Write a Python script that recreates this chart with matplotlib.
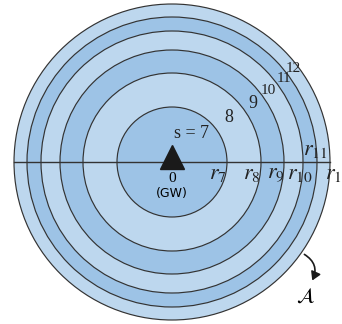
import matplotlib.pyplot as plt
from matplotlib.patches import Circle, FancyArrowPatch

plt.rcParams["mathtext.fontset"] = "stix"
plt.rcParams["font.family"] = ["Liberation Serif", "DejaVu Serif"]

# ring index and outer radius of each ring (pixels)
ring_ids = [7, 8, 9, 10, 11, 12]
ring_radii = [55, 89, 112, 131, 145, 158]
ring_colors = ["#9dc3e6", "#bdd7ee", "#9dc3e6", "#bdd7ee", "#9dc3e6", "#bdd7ee"]

# where the ring number labels sit
num_labels = ["s = 7", "8", "9", "10", "11", "12"]
num_pos = [(191, 133), (229, 117), (253, 104), (268, 90), (284, 78), (293, 68)]
num_sizes = [13, 13, 13, 11, 11, 11]

# radius labels along the axis
r_pos = [(218, 174), (252, 174), (276, 174), (300, 174), (315, 151), (338, 174)]

cx, cy = 172, 162

fig = plt.figure(figsize=(3.42, 3.24), dpi=100)
ax = fig.add_axes([0, 0, 1, 1])
ax.set_xlim(0, 342)
ax.set_ylim(324, 0)
ax.set_aspect("equal")
ax.axis("off")

# rings, outer first so inner ones paint on top
for r, c in reversed(list(zip(ring_radii, ring_colors))):
    ax.add_patch(Circle((cx, cy), r, facecolor=c, edgecolor="#333333", lw=0.85))

ax.plot([14, cx + ring_radii[-1]], [cy, cy], color="#333333", lw=1.0)

# gateway marker
ax.plot(cx, cy - 5, marker="^", color="#1a1a1a", markersize=17)
ax.text(cx, cy + 16, "0", ha="center", va="center", fontsize=11)
ax.text(cx, cy + 31, "(GW)", ha="center", va="center", fontsize=9,
        family="DejaVu Sans")

for lab, (x, y), fs in zip(num_labels, num_pos, num_sizes):
    ax.text(x, y, lab, ha="center", va="center", fontsize=fs, color="#222222")

for k, (x, y) in zip(ring_ids, r_pos):
    ax.text(x, y, r"$r_{%d}$" % k, ha="center", va="center", fontsize=16,
            color="#222222")

# boundary of the coverage area
arrow = FancyArrowPatch((302, 253), (311, 283), connectionstyle="arc3,rad=-0.5",
                        arrowstyle="-|>,head_length=5,head_width=3",
                        color="#1a1a1a", lw=1.2)
ax.add_patch(arrow)
ax.text(305, 297, r"$\mathcal{A}$", ha="center", va="center", fontsize=15)

fig.savefig("out.png", dpi=100)
